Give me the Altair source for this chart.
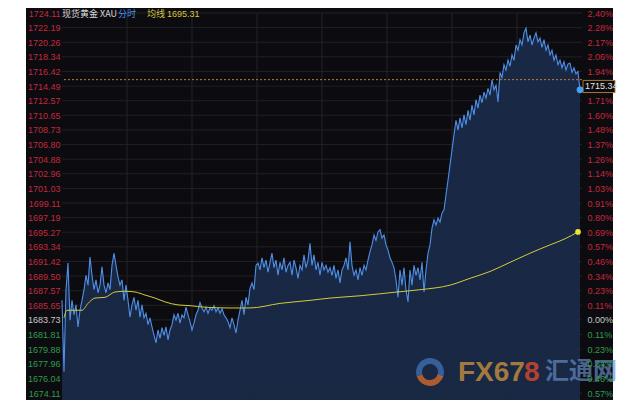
import altair as alt
import pandas as pd

# ---- data (XAU intraday, minute index) ----
price = [
    1686.3, 1676.9, 1687.7, 1691.2, 1683.7, 1686.3, 1684.4, 1685.7, 1682.8, 1685.0,
    1686.3, 1687.7, 1689.6, 1688.3, 1692.0, 1689.6, 1687.7, 1689.0, 1687.3, 1688.3,
    1690.7, 1688.3, 1687.3, 1688.6, 1687.7, 1690.9, 1692.5, 1690.9, 1689.4, 1688.3,
    1689.0, 1686.3, 1688.3, 1686.3, 1684.1, 1685.7, 1686.7, 1685.0, 1686.3, 1684.1,
    1685.7, 1684.0, 1684.6, 1683.1, 1684.0, 1682.8, 1681.7, 1680.7, 1682.4, 1681.3,
    1682.7, 1681.7, 1682.8, 1681.1, 1682.4, 1683.1, 1684.4, 1683.7, 1684.6, 1683.3,
    1684.4, 1684.0, 1685.4, 1684.4, 1683.5, 1682.4, 1683.3, 1684.4, 1685.0, 1686.0,
    1685.3, 1684.8, 1685.4, 1684.6, 1685.3, 1685.0, 1685.6, 1684.8, 1685.3, 1684.6,
    1685.2, 1684.4, 1684.0, 1683.5, 1682.7, 1684.0, 1683.1, 1682.0, 1683.7, 1685.0,
    1686.3, 1684.4, 1686.7, 1685.7, 1687.9, 1688.6, 1687.7, 1690.9, 1691.2, 1690.3,
    1691.9, 1690.6, 1691.6, 1690.0, 1691.3, 1692.5, 1690.6, 1691.6, 1689.6, 1691.3,
    1690.3, 1691.9, 1690.0, 1690.9, 1691.3, 1689.6, 1691.6, 1690.6, 1689.2, 1690.9,
    1690.3, 1692.3, 1690.6, 1691.6, 1693.8, 1690.9, 1692.3, 1690.3, 1691.3, 1689.6,
    1691.3, 1690.3, 1690.9, 1690.0, 1690.6, 1689.6, 1690.9, 1689.2, 1690.3, 1688.6,
    1690.3, 1690.9, 1691.9, 1690.3, 1694.0, 1690.9, 1689.6, 1690.3, 1689.0, 1690.6,
    1689.6, 1690.9, 1690.3, 1691.6, 1692.7, 1693.6, 1694.9, 1694.2, 1695.3, 1695.6,
    1694.5, 1694.9, 1693.6, 1692.9, 1691.9, 1691.3, 1690.6, 1689.0, 1686.7, 1690.3,
    1688.3, 1690.6, 1687.7, 1686.1, 1690.3, 1688.3, 1690.9, 1689.6, 1690.6, 1689.0,
    1691.3, 1687.4, 1690.3, 1692.5, 1693.6, 1695.8, 1696.9, 1696.2, 1697.1, 1696.6,
    1697.8, 1698.2, 1700.2, 1702.1, 1704.1, 1706.1, 1708.1, 1710.0, 1708.7, 1710.3,
    1709.0, 1710.7, 1709.4, 1711.3, 1710.0, 1712.0, 1710.7, 1712.7, 1711.6, 1713.3,
    1712.3, 1713.7, 1712.9, 1714.2, 1713.3, 1715.3, 1714.0, 1714.6, 1712.4, 1716.3,
    1715.6, 1717.3, 1716.6, 1717.9, 1717.1, 1718.6, 1717.9, 1719.9, 1719.2, 1720.6,
    1719.9, 1721.5, 1722.1, 1720.3, 1721.2, 1719.9, 1720.8, 1721.5, 1720.3, 1720.8,
    1719.6, 1720.6, 1719.2, 1719.9, 1718.6, 1719.2, 1717.9, 1718.6, 1717.3, 1717.9,
    1716.9, 1717.7, 1716.6, 1717.4, 1717.5, 1716.3, 1716.9, 1716.1, 1716.4, 1714.0,
]
minute = list(range(0, 2 * len(price), 2))

avg_minute = [2, 5, 13, 20, 26, 33, 43, 53, 63, 73, 83, 93, 103, 116, 128, 143, 168,
              188, 218, 248, 268, 298, 335, 358, 388, 408, 428, 448, 468, 488, 503, 516]
avg_price = [1684.0, 1685.0, 1685.0, 1685.0, 1685.9, 1686.6, 1686.7, 1687.4, 1687.5,
             1687.4, 1687.0, 1686.6, 1686.1, 1685.7, 1685.6, 1685.4, 1685.3, 1685.3,
             1685.9, 1686.3, 1686.6, 1686.9, 1687.4, 1687.7, 1688.3, 1689.2, 1690.1,
             1691.3, 1692.5, 1693.6, 1694.4, 1695.31]

left_ticks = [1724.11, 1722.19, 1720.26, 1718.34, 1716.42, 1714.49, 1712.57, 1710.65,
              1708.73, 1706.80, 1704.88, 1702.96, 1701.03, 1699.11, 1697.19, 1695.27,
              1693.34, 1691.42, 1689.50, 1687.57, 1685.65, 1683.73, 1681.81, 1679.88,
              1677.96, 1676.04, 1674.11]
# the 1714.49 percentage label is hidden behind the current-price box in the reference
right_ticks = [v for v in left_ticks if v != 1714.49]
x_grid = [65, 130, 195, 260, 325, 390, 455]

prev_close = 1683.73
current_price = 1715.34
avg_last = 1695.31

# ---- styling ----
BG = "#0c0c10"
FONT = "Liberation Sans"
RED = "#c4283b"
GREEN = "#2f9b4b"
NEUTRAL = "#c8c8c8"

yscale = alt.Scale(domain=[left_ticks[-1], left_ticks[0]], nice=False, zero=False)
xscale = alt.Scale(domain=[0, 520], nice=False, zero=False)

df = pd.DataFrame({"minute": minute, "price": price})
adf = pd.DataFrame({"minute": avg_minute, "avg": avg_price})
one = pd.DataFrame({"k": [0]})
hg = pd.DataFrame({"v": left_ticks})
vg = pd.DataFrame({"m": x_grid})

label_color = {
    "condition": [
        {"test": f"datum.value > {prev_close + 0.02}", "value": RED},
        {"test": f"datum.value < {prev_close - 0.02}", "value": GREEN},
    ],
    "value": NEUTRAL,
}

left_axis = alt.Axis(
    orient="left", values=left_ticks, format=".2f", title=None, grid=False,
    ticks=False, tickSize=0, domain=False, labelFont=FONT, labelFontSize=9,
    labelColor=label_color, labelPadding=2, labelAlign="right",
    labelBaseline="middle", labelOverlap=False, labelBound=False, zindex=1,
)
right_axis = alt.Axis(
    orient="right", values=right_ticks, title=None, grid=False,
    labelExpr=f"format(abs(datum.value/{prev_close}-1)*100, '.2f') + '%'",
    ticks=False, tickSize=0, domain=False, labelFont=FONT, labelFontSize=9,
    labelColor=label_color, labelPadding=5, labelAlign="left",
    labelBaseline="middle", labelOverlap=False, labelBound=False, zindex=1,
)

X = alt.X("minute:Q", scale=xscale, axis=None)

bg = alt.Chart(one).mark_rect(color=BG).encode(
    x=alt.value(-36), x2=alt.value(551), y=alt.value(-13), y2=alt.value(390)
)
hgrid = alt.Chart(hg).mark_rule(color="#202026", strokeWidth=1).encode(
    y=alt.Y("v:Q", scale=yscale, axis=None)
)
vgrid = alt.Chart(vg).mark_rule(color="#202026", strokeWidth=1).encode(
    x=alt.X("m:Q", scale=xscale, axis=None)
)
area = alt.Chart(df).mark_area(
    color=alt.Gradient(
        gradient="linear",
        stops=[alt.GradientStop(color="#192844", offset=0),
               alt.GradientStop(color="#111726", offset=1)],
        x1=1, x2=1, y1=0, y2=1,
    )
).encode(x=X, y=alt.Y("price:Q", scale=yscale, axis=None))
line = alt.Chart(df).mark_line(color="#4f8fe8", strokeWidth=1.1).encode(
    x=X, y=alt.Y("price:Q", scale=yscale, axis=left_axis)
)
avg = alt.Chart(adf).mark_line(color="#d3cc3a", strokeWidth=1, interpolate="monotone").encode(
    x=X, y=alt.Y("avg:Q", scale=yscale, axis=right_axis)
)
cur_rule = alt.Chart(one).mark_rule(color="#c8782a", strokeDash=[2, 2], strokeWidth=1).encode(
    y=alt.YDatum(current_price, scale=yscale, axis=None)
)
box = alt.Chart(one).mark_rect(fill=BG, stroke="#b0782e", strokeWidth=1).encode(
    x=alt.value(521), x2=alt.value(553),
    y=alt.YDatum(current_price - 0.1, scale=yscale, axis=None),
    y2=alt.Y2Datum(current_price - 1.7),
)
box_text = alt.Chart(one).mark_text(
    align="left", baseline="middle", fontSize=9, font=FONT, color="#e6e6e6"
).encode(
    x=alt.value(523), y=alt.YDatum(current_price - 0.9, scale=yscale, axis=None),
    text=alt.value(f"{current_price:.2f}"),
)
blue_dot = alt.Chart(df.tail(1)).mark_circle(size=45, color="#4aa0f5", opacity=1).encode(
    x=X, y=alt.Y("price:Q", scale=yscale, axis=None)
)
yellow_dot = alt.Chart(adf.tail(1)).mark_circle(size=32, color="#f0e830", opacity=1).encode(
    x=X, y=alt.Y("avg:Q", scale=yscale, axis=None)
)

def label(txt, x, color, size=9, weight="normal", font=FONT, y=-3, baseline="top", opacity=1.0):
    return alt.Chart(one).mark_text(
        align="left", baseline=baseline, fontSize=size, font=font, color=color,
        fontWeight=weight, opacity=opacity,
    ).encode(x=alt.value(x), y=alt.value(y), text=alt.value(txt))

h1 = label("现货黄金 XAU", 0, "#d8d8d8", font="Noto Sans CJK SC")
h2 = label("分时", 56, "#4a90e2", font="Noto Sans CJK SC")
h3 = label("均线", 85, "#d4c43a", font="Noto Sans CJK SC")
h4 = label(f"{avg_last:.2f}", 105, "#d4c43a")

# watermark
logo_blue = alt.Chart(one).mark_arc(radius=14, radius2=8, theta=4.4, theta2=8.3,
                                    color="#3f6db0", opacity=0.8).encode(
    x=alt.value(368), y=alt.value(359))
logo_orange = alt.Chart(one).mark_arc(radius=14, radius2=8, theta=1.9, theta2=4.4,
                                      color="#c8642e", opacity=0.85).encode(
    x=alt.value(368), y=alt.value(359))
w1 = label("FX67", 396, "#b3823f", size=28, weight="bold", font=FONT,
           y=360, baseline="middle", opacity=0.9)
w2 = label("8", 462, "#c4462e", size=28, weight="bold", font=FONT,
           y=360, baseline="middle", opacity=0.9)
w3 = label("汇通网", 483, "#6a90cc", size=24, weight="bold", font="Noto Sans CJK SC",
           y=359, baseline="middle", opacity=0.65)

chart = alt.layer(
    bg, hgrid, vgrid, area, line, avg, cur_rule, box, box_text, blue_dot, yellow_dot,
    h1, h2, h3, h4, logo_blue, logo_orange, w1, w2, w3,
).resolve_axis(y="independent").properties(
    width=520, height=380,
    padding={"left": 54, "top": 5, "right": 40, "bottom": 7},
    autosize=alt.AutoSizeParams(type="none"),
    background="white",
).configure_view(stroke=None)

chart.save("out.html", embed_options={"renderer": "svg", "actions": False})
